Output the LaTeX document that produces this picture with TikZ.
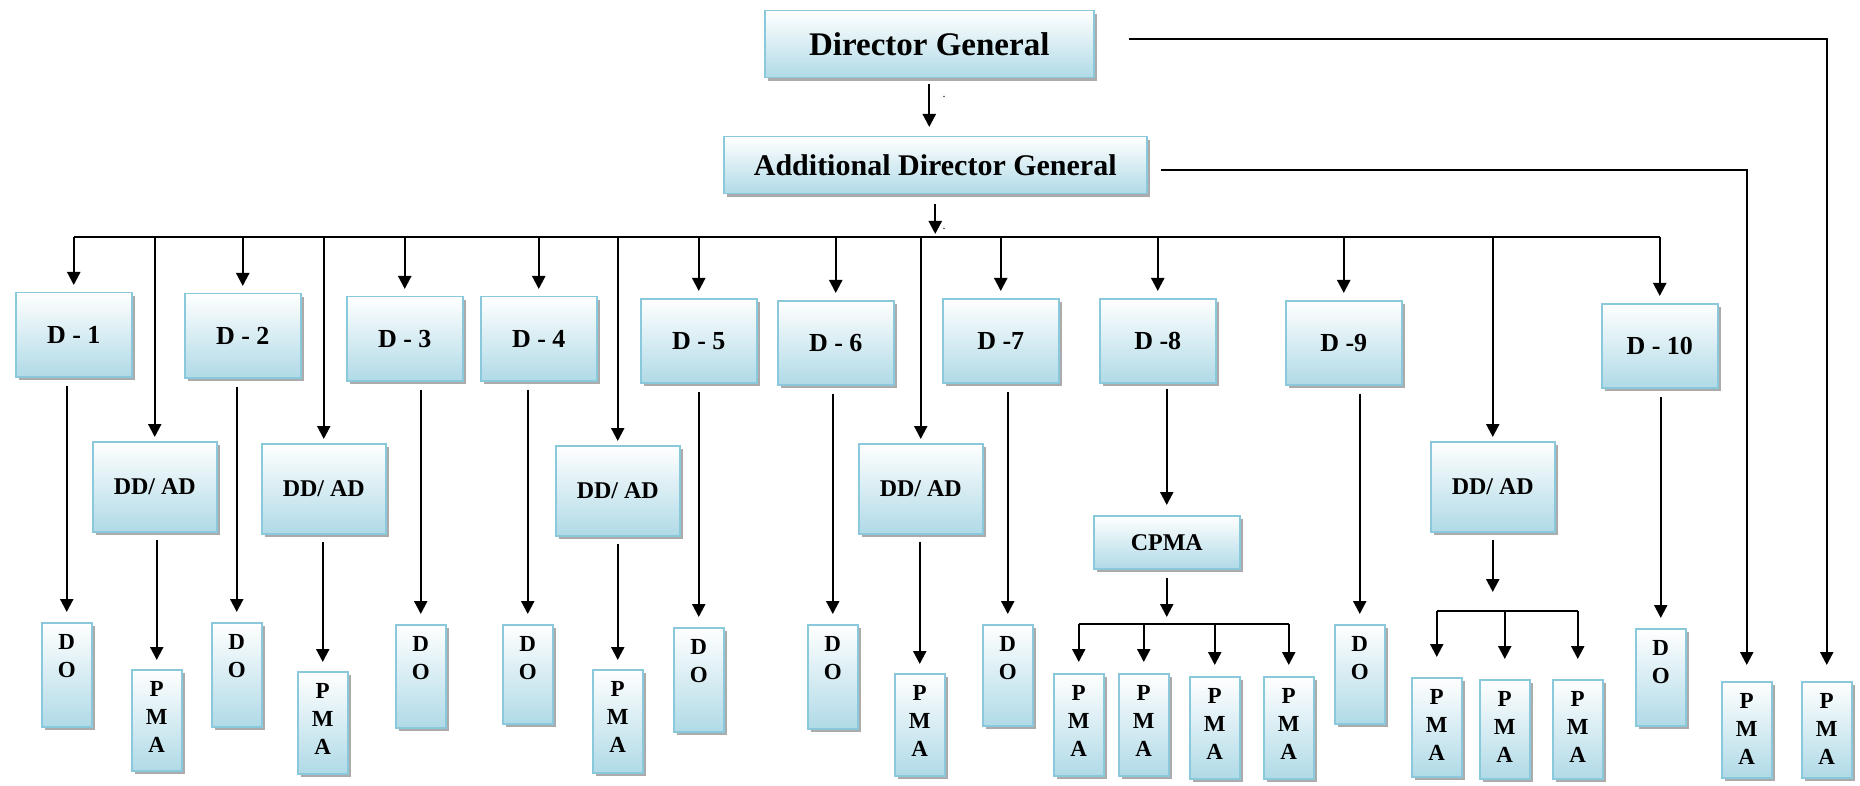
\documentclass[tikz,border=0pt]{standalone}
\usepackage{fontspec}
\setmainfont{Liberation Serif}
\usetikzlibrary{arrows.meta,shadows}

\definecolor{boxblue}{RGB}{176,218,231}
\definecolor{boxedge}{RGB}{138,200,220}

% stacked letters in a narrow box, set from the top
\newcommand\vtext[2]{\parbox[c][#1pt][t]{50pt}{\centering\fontsize{23}{28}\selectfont\bfseries\vspace*{12pt}#2}}

\tikzset{
  box/.style={draw=boxedge, line width=1.5pt, top color=white, bottom color=boxblue,
    drop shadow={shadow xshift=3pt, shadow yshift=-3pt, fill=black!55, opacity=0.6},
    inner sep=0pt, anchor=north west, text=black},
  topbox/.style={box},
  dirbox/.style={box, minimum width=116pt, minimum height=84pt, font=\bfseries\fontsize{26}{30}\selectfont},
  ddbox/.style={box, minimum width=124pt, minimum height=90pt, font=\bfseries\fontsize{24}{28}\selectfont},
  tallbox/.style={box, minimum width=50pt},
  link/.style={line width=2.2pt, draw=black},
  arr/.style={link, -{Triangle[width=13pt,length=13pt]}},
  dotmark/.style={inner sep=0pt, font=\fontsize{12}{12}\selectfont}
}

\begin{document}
\begin{tikzpicture}[x=1pt,y=-1pt]
\useasboundingbox (0,0) rectangle (1860,786);

% top level
\node[topbox, minimum width=329pt, minimum height=67pt, font=\bfseries\fontsize{33}{37}\selectfont] (dg) at (764,10) {Director General};
\node[topbox, minimum width=423pt, minimum height=57pt, font=\bfseries\fontsize{30}{34}\selectfont] (adg) at (723,136) {Additional Director General};

% directors
\node[dirbox] (d1)  at (15,292)   {D - 1};
\node[dirbox] (d2)  at (184,293)  {D - 2};
\node[dirbox] (d3)  at (346,296)  {D - 3};
\node[dirbox] (d4)  at (480,296)  {D - 4};
\node[dirbox] (d5)  at (640,298)  {D - 5};
\node[dirbox] (d6)  at (777,300)  {D - 6};
\node[dirbox] (d7)  at (942,298)  {D -7};
\node[dirbox] (d8)  at (1099,298) {D -8};
\node[dirbox] (d9)  at (1285,300) {D -9};
\node[dirbox] (d10) at (1601,303) {D - 10};

% deputy / assistant directors
\node[ddbox] (dd1) at (92,441)   {DD/ AD};
\node[ddbox] (dd2) at (261,443)  {DD/ AD};
\node[ddbox] (dd3) at (555,445)  {DD/ AD};
\node[ddbox] (dd4) at (858,443)  {DD/ AD};
\node[ddbox] (dd5) at (1430,441) {DD/ AD};

\node[box, minimum width=146pt, minimum height=53pt, font=\bfseries\fontsize{24}{28}\selectfont] (cpma) at (1093,515) {CPMA};

% DO boxes
\node[tallbox] (do1)  at (41,622)   {\vtext{104}{D\\O}};
\node[tallbox] (do2)  at (211,622)  {\vtext{104}{D\\O}};
\node[tallbox] (do3)  at (395,624)  {\vtext{103}{D\\O}};
\node[tallbox] (do4)  at (502,624)  {\vtext{99}{D\\O}};
\node[tallbox] (do5)  at (673,627)  {\vtext{104}{D\\O}};
\node[tallbox] (do6)  at (807,624)  {\vtext{104}{D\\O}};
\node[tallbox] (do7)  at (982,624)  {\vtext{101}{D\\O}};
\node[tallbox] (do9)  at (1334,624) {\vtext{99}{D\\O}};
\node[tallbox] (do10) at (1635,628) {\vtext{97}{D\\O}};

% PMA boxes
\node[tallbox] (p1) at (131,669) {\vtext{101}{P\\M\\A}};
\node[tallbox] (p2) at (297,671) {\vtext{102}{P\\M\\A}};
\node[tallbox] (p3) at (592,669) {\vtext{103}{P\\M\\A}};
\node[tallbox] (p4) at (894,673) {\vtext{102}{P\\M\\A}};

\node[tallbox] (c1) at (1053,673) {\vtext{102}{P\\M\\A}};
\node[tallbox] (c2) at (1118,673) {\vtext{102}{P\\M\\A}};
\node[tallbox] (c3) at (1189,676) {\vtext{102}{P\\M\\A}};
\node[tallbox] (c4) at (1263,676) {\vtext{102}{P\\M\\A}};

\node[tallbox] (e1) at (1411,677) {\vtext{99}{P\\M\\A}};
\node[tallbox] (e2) at (1479,679) {\vtext{99}{P\\M\\A}};
\node[tallbox] (e3) at (1552,679) {\vtext{99}{P\\M\\A}};

\node[tallbox] (r1) at (1721,681) {\vtext{96}{P\\M\\A}};
\node[tallbox] (r2) at (1801,681) {\vtext{96}{P\\M\\A}};

% stray dots beside the top arrows
\node[dotmark] (dot1) at (944,97)  {.};
\node[dotmark] (dot2) at (944,229) {.};

% DG -> ADG
\draw[arr, shorten <=6pt, shorten >=9pt] (dg.south) -- (dg.south |- adg.north);

% ADG -> main bus
\coordinate (bus) at (0,237);
\draw[arr, shorten <=10pt, shorten >=3pt] (adg.south) -- (adg.south |- bus);
\draw[link] (d1.north |- bus) -- (d10.north |- bus);

\foreach \n in {d1,d2,d3,d4,d5,d6,d7,d8,d9,d10}
  \draw[arr, shorten >=7pt] (\n.north |- bus) -- (\n.north);
\foreach \n in {dd1,dd2,dd3,dd4,dd5}
  \draw[arr, shorten >=4pt] (\n.north |- bus) -- (\n.north);

% directors -> DO
\foreach \a/\b in {d1/do1,d2/do2,d3/do3,d4/do4,d5/do5,d6/do6,d7/do7,d9/do9,d10/do10}
  \draw[arr, shorten <=8pt, shorten >=10pt] (\a.south -| \b.north) -- (\b.north);

% DD/AD -> PMA
\foreach \a/\b in {dd1/p1,dd2/p2,dd3/p3,dd4/p4}
  \draw[arr, shorten <=7pt, shorten >=9pt] (\a.south -| \b.north) -- (\b.north);

% D-8 -> CPMA -> four PMA
\draw[arr, shorten <=5pt, shorten >=10pt] (d8.south -| cpma.north) -- (cpma.north);
\coordinate (cbus) at (0,624);
\draw[arr, shorten <=8pt, shorten >=7pt] (cpma.south) -- (cpma.south |- cbus);
\draw[link] (c1.north |- cbus) -- (c4.north |- cbus);
\foreach \n in {c1,c2,c3,c4}
  \draw[arr, shorten >=11pt] (\n.north |- cbus) -- (\n.north);

% last DD/AD -> three PMA
\coordinate (ebus) at (0,611);
\draw[arr, shorten <=7pt, shorten >=19pt] (dd5.south) -- (dd5.south |- ebus);
\draw[link] (e1.north |- ebus) -- (e3.north |- ebus);
\foreach \n in {e1,e2,e3}
  \draw[arr, shorten >=20pt] (\n.north |- ebus) -- (\n.north);

% direct lines to the PMA on the right
\draw[arr, shorten >=16pt] ([xshift=13pt,yshift=-5pt]adg.east) -| (r1.north);
\draw[arr, shorten >=16pt] ([xshift=34pt,yshift=5pt]dg.east) -| (r2.north);

\end{tikzpicture}
\end{document}
